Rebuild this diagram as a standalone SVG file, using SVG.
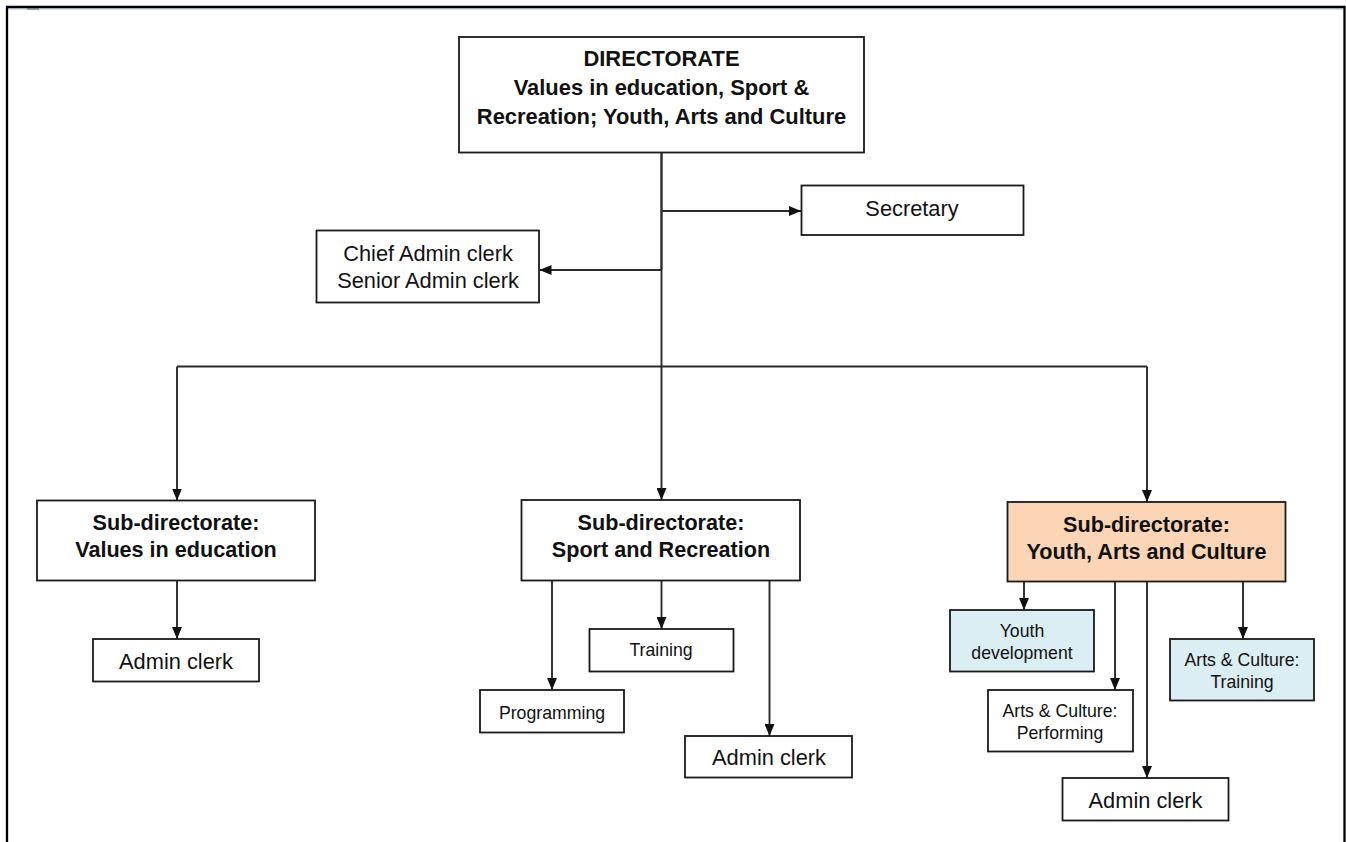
<svg xmlns="http://www.w3.org/2000/svg" width="1346" height="842" viewBox="0 0 1346 842">
  <defs>
    <marker id="arrow" viewBox="0 0 12 10" markerUnits="userSpaceOnUse" markerWidth="12" markerHeight="10" refX="12" refY="5" orient="auto">
      <path d="M0,0 L12,5 L0,10 z" fill="#111"/>
    </marker>
    <style>
      .box { fill: #ffffff; stroke: #1a1a1a; stroke-width: 1.8; }
      .peach { fill: #fbd5b5; }
      .blue { fill: #dbeef3; }
      .conn { fill: none; stroke: #2a2a2a; stroke-width: 1.9; }
      .conn path { marker-end: url(#arrow); }
      text { font-family: "Liberation Sans", Arial, sans-serif; fill: #111; text-anchor: middle; }
      .head { font-size: 21.9px; font-weight: bold; }
      .sub { font-size: 21.6px; font-weight: bold; }
      .lg { font-size: 21.8px; }
      .sm { font-size: 17.7px; }
    </style>
  </defs>

  <rect width="1346" height="842" fill="#ffffff"/>

  <!-- page frame -->
  <line x1="8" y1="9" x2="1343" y2="9" stroke="#c6d9f1" stroke-width="1.5"/>
  <rect x="27" y="8" width="12" height="2" fill="#8da2bb"/>
  <path d="M7,842 V7 H1344.5 V842" fill="none" stroke="#000" stroke-width="2.3"/>

  <!-- connectors -->
  <g id="connectors" class="conn">
    <line x1="661.5" y1="270" x2="661.5" y2="153" />
    <line x1="177" y1="366.5" x2="1147" y2="366.5" />
    <path d="M661.5,153 V500"/>
    <path d="M661.5,211 H801"/>
    <path d="M661.5,270 H539.5"/>
    <path d="M177,366.5 V500.5"/>
    <path d="M1147,366.5 V502"/>
    <path d="M177,581 V639"/>
    <path d="M552,580.5 V690"/>
    <path d="M661.5,580.5 V629"/>
    <path d="M769.5,580.5 V736"/>
    <path d="M1024,582 V610"/>
    <path d="M1115,582 V690"/>
    <path d="M1147,582 V778"/>
    <path d="M1243,582 V639"/>
  </g>

  <g id="directorate">
    <rect class="box" x="459" y="37" width="405" height="115.5"/>
    <text class="head" x="661.5" y="66">DIRECTORATE</text>
    <text class="head" x="661.5" y="95">Values in education, Sport &amp;</text>
    <text class="head" x="661.5" y="123.5">Recreation; Youth, Arts and Culture</text>
  </g>

  <g id="secretary">
    <rect class="box" x="801.5" y="185.5" width="222" height="49.5"/>
    <text class="lg" x="912" y="216">Secretary</text>
  </g>

  <g id="chief-admin">
    <rect class="box" x="316.5" y="230.5" width="222.5" height="72"/>
    <text class="lg" x="428" y="261">Chief Admin clerk</text>
    <text class="lg" x="428" y="288">Senior Admin clerk</text>
  </g>

  <g id="sub-values">
    <rect class="box" x="37" y="500.5" width="278" height="80"/>
    <text class="sub" x="176" y="529.5">Sub-directorate:</text>
    <text class="sub" x="176" y="557">Values in education</text>
  </g>

  <g id="values-admin">
    <rect class="box" x="93" y="639" width="166" height="42.5"/>
    <text class="lg" x="176" y="668.5">Admin clerk</text>
  </g>

  <g id="sub-sport">
    <rect class="box" x="521.5" y="500" width="278.5" height="80.5"/>
    <text class="sub" x="661" y="530">Sub-directorate:</text>
    <text class="sub" x="661" y="557">Sport and Recreation</text>
  </g>

  <g id="sport-training">
    <rect class="box" x="589.5" y="629" width="144" height="42.5"/>
    <text class="sm" x="661" y="656">Training</text>
  </g>

  <g id="sport-programming">
    <rect class="box" x="480" y="690" width="144" height="42.5"/>
    <text class="sm" x="552" y="719">Programming</text>
  </g>

  <g id="sport-admin">
    <rect class="box" x="685" y="736" width="167" height="41.5"/>
    <text class="lg" x="769" y="765">Admin clerk</text>
  </g>

  <g id="sub-youth">
    <rect class="box peach" x="1007.5" y="502" width="278" height="79.5"/>
    <text class="sub" x="1146.5" y="531.5">Sub-directorate:</text>
    <text class="sub" x="1146.5" y="559">Youth, Arts and Culture</text>
  </g>

  <g id="youth-development">
    <rect class="box blue" x="950" y="610" width="144" height="61.5"/>
    <text class="sm" x="1022" y="637">Youth</text>
    <text class="sm" x="1022" y="658.5">development</text>
  </g>

  <g id="arts-performing">
    <rect class="box" x="988" y="690" width="145" height="61.5"/>
    <text class="sm" x="1060" y="717">Arts &amp; Culture:</text>
    <text class="sm" x="1060" y="738.5">Performing</text>
  </g>

  <g id="arts-training">
    <rect class="box blue" x="1170" y="639" width="144" height="61.5"/>
    <text class="sm" x="1242" y="666">Arts &amp; Culture:</text>
    <text class="sm" x="1242" y="688">Training</text>
  </g>

  <g id="youth-admin">
    <rect class="box" x="1062.5" y="778" width="166" height="42.5"/>
    <text class="lg" x="1145.5" y="808">Admin clerk</text>
  </g>
</svg>
